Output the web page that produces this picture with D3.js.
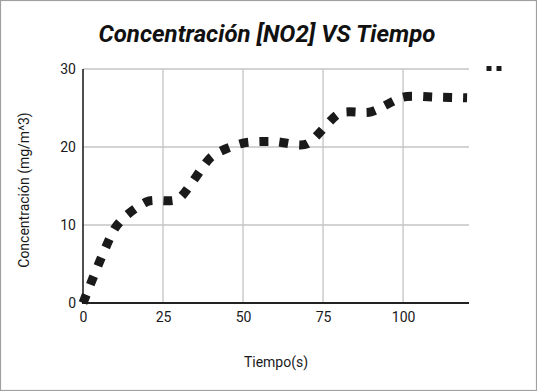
<!DOCTYPE html>
<html>
<head>
<meta charset="utf-8">
<script src="https://cdn.jsdelivr.net/npm/d3@7"></script>
<style>
  html, body { margin: 0; padding: 0; background: #fff; }
  svg { display: block; }
</style>
</head>
<body>
<svg id="chart" width="537" height="391"></svg>
<script>
const title = "Concentración [NO2] VS Tiempo";
const xLabel = "Tiempo(s)";
const yLabel = "Concentración (mg/m^3)";
const tiempo = [0, 10, 20, 30, 40, 50, 60, 70, 80, 90, 100, 110, 120];
const concentracion = [0, 9.6, 13.0, 13.4, 18.7, 20.5, 20.7, 20.4, 24.3, 24.5, 26.4, 26.4, 26.3];
const xTicks = [0, 25, 50, 75, 100];
const yTicks = [0, 10, 20, 30];

const svg = d3.select("#chart");
const W = 537, H = 391;
const m = { left: 83, right: 68, top: 69, bottom: 88 };

svg.append("rect").attr("x", 0.5).attr("y", 0.5).attr("width", W - 1).attr("height", H - 1)
  .attr("fill", "#fff").attr("stroke", "#a0a0a0").attr("stroke-width", 1.2);

const x = d3.scaleLinear().domain([0, 120.6]).range([m.left, W - m.right]);
const y = d3.scaleLinear().domain([0, 30]).range([H - m.bottom, m.top]);

const font = "Roboto, sans-serif";

// gridlines
svg.append("g").selectAll("line.v").data(xTicks.filter(d => d > 0)).join("line")
  .attr("x1", d => x(d)).attr("x2", d => x(d)).attr("y1", y(30)).attr("y2", y(0))
  .attr("stroke", "#c4c4c4").attr("stroke-width", 1.3);
svg.append("g").selectAll("line.h").data(yTicks.filter(d => d > 0)).join("line")
  .attr("x1", x(0)).attr("x2", x(120.6)).attr("y1", d => y(d)).attr("y2", d => y(d))
  .attr("stroke", "#c4c4c4").attr("stroke-width", 1.3);

// axes
const xAxis = d3.axisBottom(x).tickValues(xTicks).tickSize(0).tickPadding(9);
const gx = svg.append("g").attr("transform", `translate(0,${y(0)})`).call(xAxis);
gx.select(".domain").remove();
gx.selectAll("text").attr("font-family", font).attr("font-size", 14).attr("fill", "#1a1a1a");

const yAxis = d3.axisLeft(y).tickValues(yTicks).tickSize(0).tickPadding(7);
const gy = svg.append("g").attr("transform", `translate(${x(0)},0)`).call(yAxis);
gy.select(".domain").remove();
gy.selectAll("text").attr("font-family", font).attr("font-size", 14).attr("fill", "#1a1a1a");

svg.append("line").attr("x1", x(0)).attr("x2", x(0)).attr("y1", y(30)).attr("y2", y(0) + 1)
  .attr("stroke", "#222").attr("stroke-width", 1.6);
svg.append("line").attr("x1", x(0) - 1).attr("x2", x(120.6)).attr("y1", y(0)).attr("y2", y(0))
  .attr("stroke", "#222").attr("stroke-width", 2);

// series line
const pts = tiempo.map((t, i) => [t, concentracion[i]]);
const line = d3.line().x(d => x(d[0])).y(d => y(d[1])).curve(d3.curveCardinal.tension(0.3));
svg.append("path").datum(pts).attr("d", line)
  .attr("fill", "none").attr("stroke", "#1a1a1a").attr("stroke-width", 9)
  .attr("stroke-dasharray", "9 11").attr("stroke-linecap", "butt");

// legend marker
svg.append("line").attr("x1", 486.5).attr("x2", 501.5).attr("y1", 68.5).attr("y2", 68.5)
  .attr("stroke", "#1a1a1a").attr("stroke-width", 5).attr("stroke-dasharray", "5 5");

// title
svg.append("text").attr("x", 267).attr("y", 42).attr("text-anchor", "middle")
  .attr("font-family", font).attr("font-size", 24).attr("font-weight", "bold")
  .attr("font-style", "italic").attr("fill", "#111").text(title);

// axis titles
svg.append("text").attr("x", (x(0) + x(120.6)) / 2).attr("y", 367).attr("text-anchor", "middle")
  .attr("font-family", font).attr("font-size", 14).attr("fill", "#1a1a1a").text(xLabel);
svg.append("text").attr("transform", `translate(29,${(y(0) + y(30)) / 2 + 4}) rotate(-90)`)
  .attr("text-anchor", "middle")
  .attr("font-family", font).attr("font-size", 14).attr("fill", "#1a1a1a").text(yLabel);
</script>
</body>
</html>
